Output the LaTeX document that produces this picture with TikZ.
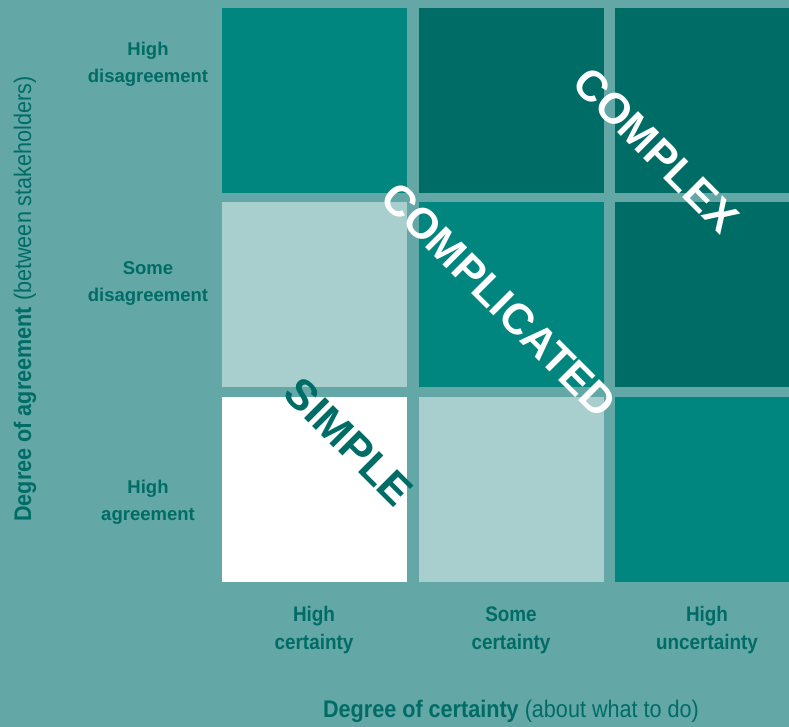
\documentclass[tikz,border=0pt]{standalone}
\usepackage{fontspec}
\setmainfont{Liberation Sans}
\newfontfamily\narrowfont{Liberation Sans}[FakeStretch=0.9]
\usepackage{tikz}

\definecolor{bgteal}{HTML}{63A7A6}
\definecolor{midteal}{HTML}{00857F}
\definecolor{darkteal}{HTML}{006C66}
\definecolor{lightteal}{HTML}{A9CECE}

\tikzset{
  cell/.style={rectangle, inner sep=0pt, minimum width=185pt, minimum height=185pt},
  rowlabel/.style={align=center, text=darkteal, font=\fontsize{18.5}{27}\selectfont\bfseries},
  collabel/.style={align=center, text=darkteal, font=\narrowfont\fontsize{21}{28}\selectfont\bfseries},
  axistitle/.style={text=darkteal, font=\narrowfont\fontsize{24}{28}\selectfont},
  bigword/.style={rotate=-45, text=white, font=\fontsize{43}{48}\selectfont\bfseries}
}

\begin{document}
\begin{tikzpicture}[x=1pt, y=-1pt]
      \fill[bgteal] (0,0) rectangle (789,727);
      \useasboundingbox (0,0) rectangle (789,727);

      \node[cell, fill=midteal] (c11) at (314.5, 100.5) {};
      \node[cell, fill=darkteal] (c12) at (511.5, 100.5) {};
      \node[cell, fill=darkteal, minimum width=174pt] (c13) at (702, 100.5) {};
      \node[cell, fill=lightteal] (c21) at (314.5, 294.5) {};
      \node[cell, fill=midteal] (c22) at (511.5, 294.5) {};
      \node[cell, fill=darkteal, minimum width=174pt] (c23) at (702, 294.5) {};
      \node[cell, fill=white] (c31) at (314.5, 489.5) {};
      \node[cell, fill=lightteal] (c32) at (511.5, 489.5) {};
      \node[cell, fill=midteal, minimum width=174pt] (c33) at (702, 489.5) {};

      \node[rowlabel] (r1) at (148, 64) {High\\disagreement};
      \node[rowlabel] (r2) at (148, 284) {Some\\disagreement};
      \node[rowlabel] (r3) at (148, 502) {High\\agreement};

      \node[collabel] (k1) at (314, 630) {High\\certainty};
      \node[collabel] (k2) at (511, 630) {Some\\certainty};
      \node[collabel] (k3) at (707, 630) {High\\uncertainty};

      \node[axistitle, rotate=90] (ytitle) at (25, 299) {\textbf{Degree of agreement} (between stakeholders)};
      \node[axistitle] (xtitle) at (511, 711) {\textbf{Degree of certainty} (about what to do)};

      \node[bigword] (complex) at (656, 150) {COMPLEX};
      \node[bigword] (complicated) at (499, 300) {COMPLICATED};
      \node[bigword, text=darkteal] (simple) at (349, 442) {SIMPLE};
    \end{tikzpicture}
\end{document}
